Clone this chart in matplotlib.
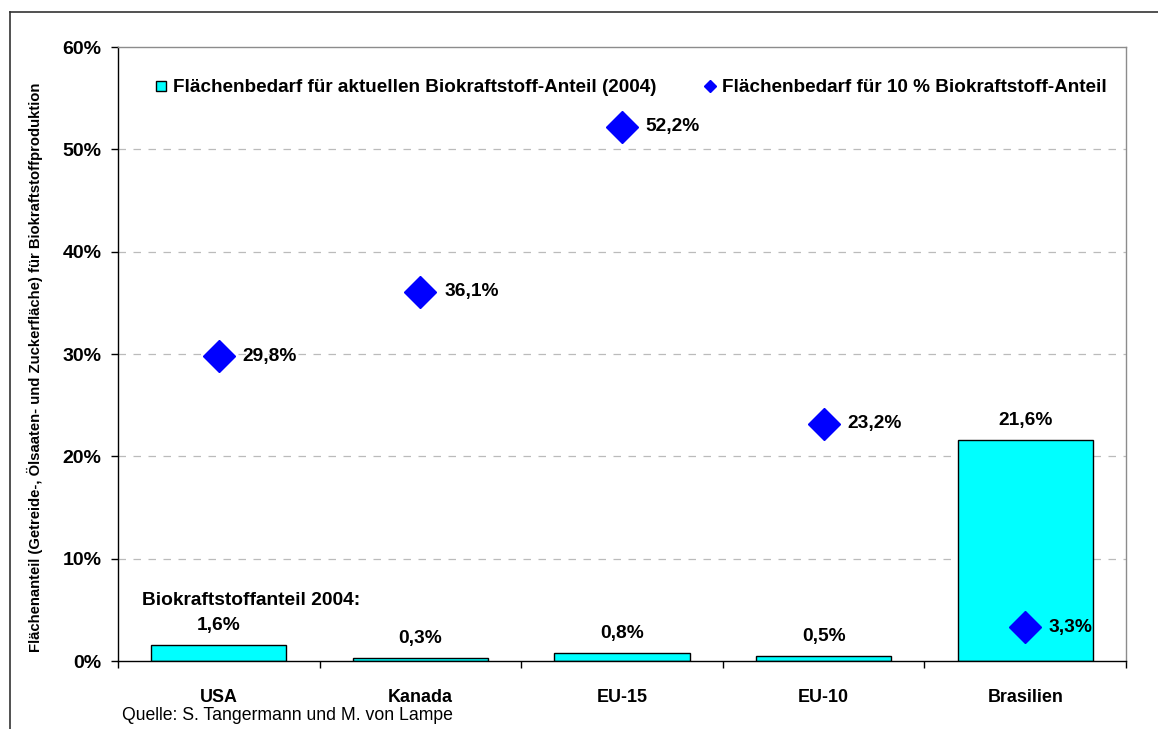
import matplotlib
matplotlib.use("Agg")
import matplotlib.pyplot as plt
from matplotlib.lines import Line2D
import numpy as np

categories = ["USA", "Kanada", "EU-15", "EU-10", "Brasilien"]
current_share = [1.6, 0.3, 0.8, 0.5, 21.6]
ten_percent_share = [29.8, 36.1, 52.2, 23.2, 3.3]
yticks = [0, 10, 20, 30, 40, 50, 60]
legend_labels = ["Flächenbedarf für aktuellen Biokraftstoff-Anteil (2004)",
                 "Flächenbedarf für 10 % Biokraftstoff-Anteil"]
ylabel = "Flächenanteil (Getreide-, Ölsaaten- und Zuckerfläche) für Biokraftstoffproduktion"
source = "Quelle: S. Tangermann und M. von Lampe"
annot = "Biokraftstoffanteil 2004:"

plt.rcParams['font.family'] = ['Liberation Sans', 'DejaVu Sans']

def fmt(v):
    return f"{v:.1f}".replace(".", ",") + "%"

fig = plt.figure(figsize=(11.58, 7.29), dpi=100)
ax = fig.add_axes([118/1158, 1-661/729, (1126-118)/1158, (661-47)/729])

x = np.arange(len(categories))
ax.bar(x, current_share, width=0.67, color="#00FFFF", edgecolor="black", linewidth=1.0, zorder=2)
ax.plot(x, ten_percent_share, linestyle="none", marker="D", markersize=16,
        color="#0000FF", markeredgecolor="#0000FF", zorder=3)

for xi, v in zip(x, current_share):
    ax.annotate(fmt(v), (xi, v), xytext=(0, 14), textcoords="offset points",
                ha="center", va="center", fontsize=13.8, fontweight="bold")
for xi, v in zip(x, ten_percent_share):
    ax.annotate(fmt(v), (xi, v), xytext=(17, 0), textcoords="offset points",
                ha="left", va="center", fontsize=13.8, fontweight="bold")

ax.annotate(annot, (x[0], current_share[0]), xytext=(-55, 32), textcoords="offset points",
            ha="left", va="center", fontsize=13.8, fontweight="bold")

ax.set_xlim(-0.5, len(categories) - 0.5)
ax.set_ylim(0, 60)
ax.set_yticks(yticks)
ax.set_yticklabels([f"{t}%" for t in yticks], fontsize=14, fontweight="bold")
ax.set_xticks(x)
ax.set_xticklabels(categories, fontsize=12.9, fontweight="bold")
ax.set_xticks(np.arange(len(categories) + 1) - 0.5, minor=True)
ax.tick_params(axis="x", which="major", length=0, pad=20)
ax.tick_params(axis="x", which="minor", length=5, direction="out", width=1)
ax.tick_params(axis="y", length=5, direction="out", width=1, pad=7)

for t in yticks[1:-1]:
    ax.axhline(t, color="#BBBBBB", linewidth=0.9, linestyle=(0, (6, 6)), zorder=1)

ax.spines["left"].set_color("black")
ax.spines["bottom"].set_color("black")
ax.spines["top"].set_color("#8C8C8C")
ax.spines["right"].set_color("#8C8C8C")
for s in ax.spines.values():
    s.set_linewidth(1.0)

ax.set_ylabel(ylabel, fontsize=10.7, fontweight="bold")
ax.yaxis.set_label_coords(-0.074, 0.479)

handles = [
    Line2D([], [], linestyle="none", marker="s", markersize=7.5, markerfacecolor="#00FFFF",
           markeredgecolor="black", markeredgewidth=1.0),
    Line2D([], [], linestyle="none", marker="D", markersize=6.5, color="#0000FF"),
]
leg = ax.legend(handles, legend_labels, ncol=2, frameon=False, loc="center",
                bbox_to_anchor=(0.509, 0.934), prop={"weight": "bold", "size": 13.6},
                handlelength=0.6, handletextpad=0.35, columnspacing=2.5)

fig.text(122/1158, 1-716/729, source, fontsize=12.7, ha="left", va="center")

fig.add_artist(Line2D([10/1158, 10/1158], [0, 1-12/729], color="#333333", linewidth=1.2,
                      transform=fig.transFigure))
fig.add_artist(Line2D([10/1158, 1], [1-12/729, 1-12/729], color="#333333", linewidth=1.2,
                      transform=fig.transFigure))

fig.savefig("out.png", dpi=100)
